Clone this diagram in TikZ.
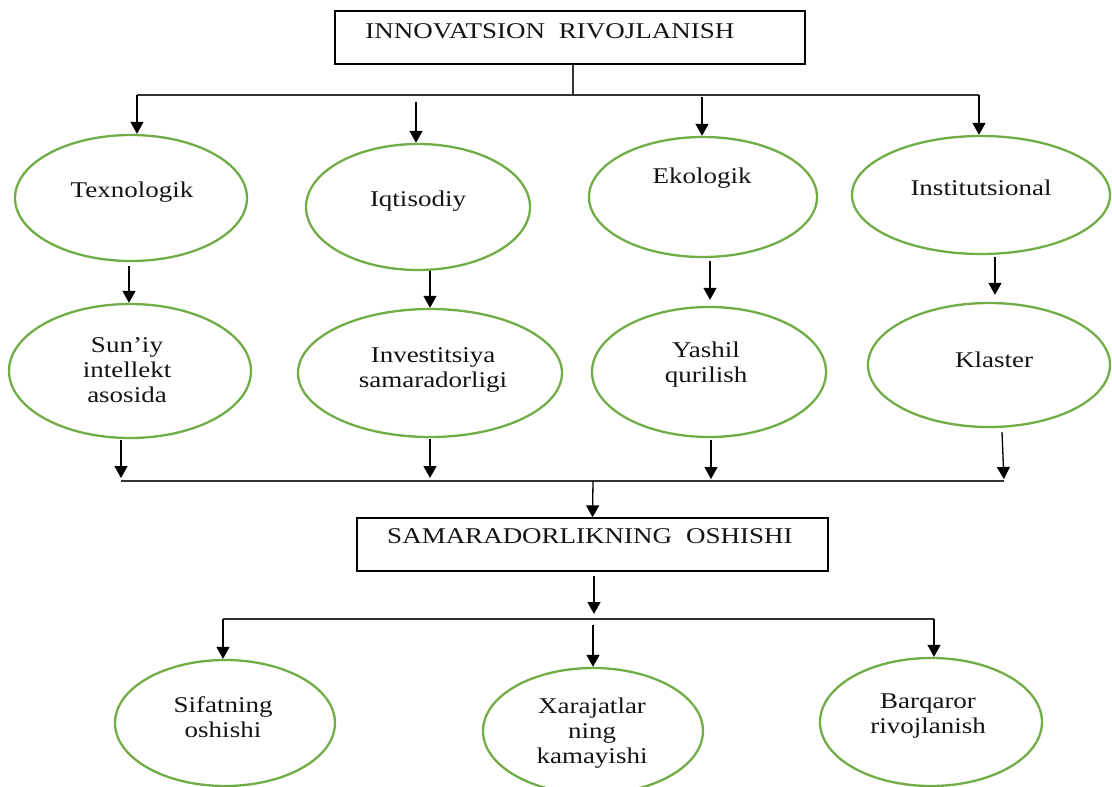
\documentclass[tikz,border=0pt]{standalone}
\usepackage{fontspec}
\setmainfont{Liberation Serif}[FakeStretch=1.2]
\usepackage{tikz}
\usetikzlibrary{arrows.meta,shapes.geometric}

\definecolor{leafgreen}{RGB}{112,173,71}

\tikzset{
  oval/.style={ellipse, draw=leafgreen, line width=2.3pt, inner sep=0pt},
  titlebox/.style={rectangle, draw=black, line width=1.3pt, inner sep=0pt},
  lbl/.style={align=center, inner sep=0pt, text=black!92, font=\fontsize{22.5}{25}\selectfont},
  arr/.style={-{Triangle[width=13pt,length=12pt]}, line width=1.3pt},
  bus/.style={line width=1.2pt, draw=black!80}
}

\begin{document}
\begin{tikzpicture}[x=1pt, y=-1pt]
  \useasboundingbox (0,0) rectangle (1112,787);

  % Top box
  \node[titlebox, minimum width=470pt, minimum height=53pt] (innov) at (570,37.5) {};
  \node[lbl] (innovl) at (550,31.5) {INNOVATSION\hspace{14pt}RIVOJLANISH};

  % First row of ovals
  \node[oval, minimum width=232pt, minimum height=126pt] (tex) at (131,198) {};
  \node[oval, minimum width=224pt, minimum height=126pt] (iqt) at (418,207) {};
  \node[oval, minimum width=228pt, minimum height=120pt] (eko) at (703,197) {};
  \node[oval, minimum width=258pt, minimum height=118pt] (ins) at (981,195) {};
  \node[lbl] (texl) at (132,192) {Texnologik};
  \node[lbl] (iqtl) at (418,201.5) {Iqtisodiy};
  \node[lbl] (ekol) at (702,178) {Ekologik};
  \node[lbl] (insl) at (981,187.5) {Institutsional};

  % Second row of ovals
  \node[oval, minimum width=242pt, minimum height=134pt] (sun) at (130,371) {};
  \node[oval, minimum width=264pt, minimum height=128pt] (inv) at (430,373) {};
  \node[oval, minimum width=234pt, minimum height=130pt] (yas) at (709,372) {};
  \node[oval, minimum width=242pt, minimum height=124pt] (kla) at (989,365) {};
  \node[lbl] (sunl) at (127,370) {Sun’iy\\intellekt\\asosida};
  \node[lbl] (invl) at (433,370) {Investitsiya\\samaradorligi};
  \node[lbl] (yasl) at (706,365) {Yashil\\qurilish};
  \node[lbl] (klal) at (994,359.5) {Klaster};

  % Middle box
  \node[titlebox, minimum width=471pt, minimum height=53pt] (sam) at (592.5,544.5) {};
  \node[lbl] (saml) at (590,536) {SAMARADORLIKNING\hspace{14pt}OSHISHI};

  % Bottom row of ovals
  \node[oval, minimum width=220pt, minimum height=126pt] (sif) at (225,723) {};
  \node[oval, minimum width=220pt, minimum height=126pt] (xar) at (593,731) {};
  \node[oval, minimum width=222pt, minimum height=128pt] (bar) at (931,722) {};
  \node[lbl] (sifl) at (223,717) {Sifatning\\oshishi};
  \node[lbl] (xarl) at (592,733) {Xarajatlar\\ning\\kamayishi};
  \node[lbl] (barl) at (928,716) {Barqaror\\rivojlanish};

  % Top fork
  \coordinate (topfork) at (573,95);
  \coordinate (b1) at (137,95);
  \coordinate (b2) at (416,102);
  \coordinate (b3) at (702,97);
  \coordinate (b4) at (979,95);
  \draw[bus] (innov.south -| topfork) -- (topfork);
  \draw[bus] (b1) -- (b4);
  \draw[arr] (b1) -- (b1 |- tex.north);
  \draw[arr] (b2) -- (b2 |- iqt.north);
  \draw[arr] (b3) -- (b3 |- eko.north);
  \draw[arr] (b4) -- (b4 |- ins.north);

  % First row to second row
  \coordinate (k1) at (129,266);
  \coordinate (k3) at (710,261);
  \coordinate (k4) at (995,257);
  \draw[arr] (k1) -- (k1 |- sun.north);
  \draw[arr] (iqt.south -| inv.north) -- (inv.north);
  \draw[arr, shorten >=6pt] (k3) -- (k3 |- yas.north);
  \draw[arr, shorten >=7pt] (k4) -- (k4 |- kla.north);

  % Second row to the middle box
  \coordinate (c1) at (121,481);
  \coordinate (c2) at (430,481);
  \coordinate (c3) at (711,481);
  \coordinate (c4) at (1004,481);
  \coordinate (c0) at (593,481);
  \draw[bus] (c1) -- (c4);
  \draw[arr, shorten <=1pt, shorten >=3pt] (sun.south -| c1) -- (c1);
  \draw[arr, shorten <=1pt, shorten >=3pt] (inv.south -| c2) -- (c2);
  \draw[arr, shorten <=2pt, shorten >=2pt] (yas.south -| c3) -- (c3);
  \draw[arr, shorten >=2pt] ([xshift=13pt,yshift=-4pt]kla.south) -- (c4);
  \draw[arr] (c0) -- (sam.north);

  % Bottom fork
  \coordinate (d0) at (594,619);
  \coordinate (d1) at (223,619);
  \coordinate (d2) at (593,625);
  \coordinate (d3) at (934,619);
  \draw[arr, shorten <=4pt, shorten >=5pt] (sam.south -| d0) -- (d0);
  \draw[bus] (d1) -- (d3);
  \draw[arr] (d1) -- (d1 |- sif.north);
  \draw[arr] (d2) -- (d2 |- xar.north);
  \draw[arr] (d3) -- (d3 |- bar.north);
\end{tikzpicture}
\end{document}
